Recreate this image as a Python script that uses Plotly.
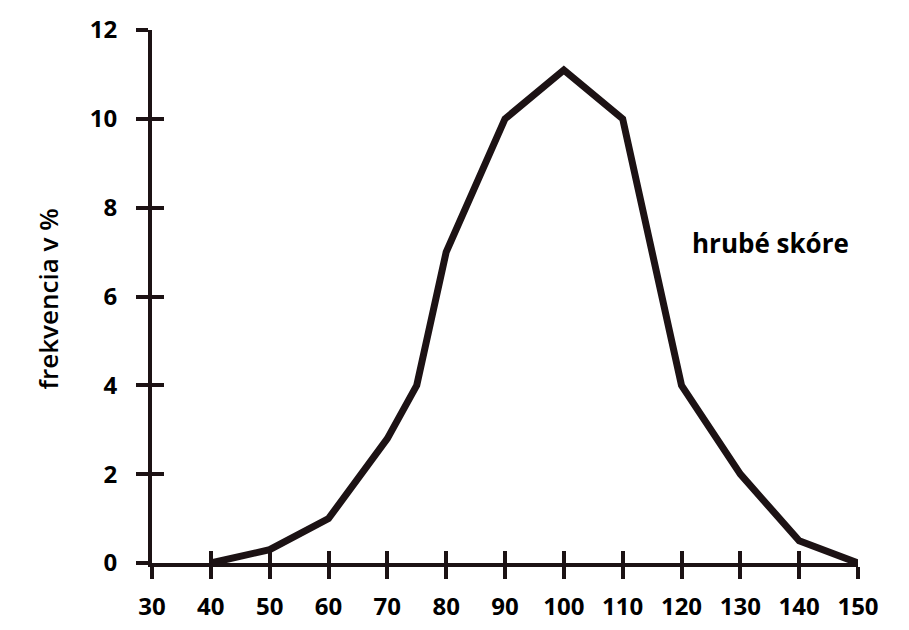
import plotly.graph_objects as go

# data
score = [40, 50, 60, 70, 75, 80, 90, 100, 110, 120, 130, 140, 150]
freq = [0, 0.3, 1.0, 2.8, 4.0, 7.0, 10.0, 11.1, 10.0, 4.0, 2.0, 0.5, 0]
x_ticks = [30, 40, 50, 60, 70, 80, 90, 100, 110, 120, 130, 140, 150]
y_ticks = [0, 2, 4, 6, 8, 10, 12]

ink = "#1c1214"
tickfont = dict(family="Open Sans", size=24, color="#000000", weight="bold")

fig = go.Figure()
fig.add_trace(go.Scatter(x=score, y=freq, mode="lines",
                         line=dict(color=ink, width=7), cliponaxis=False,
                         hoverinfo="skip", showlegend=False))
# invisible companion traces so the overlay axes (inner tick halves) are drawn
fig.add_trace(go.Scatter(x=score, y=freq, mode="lines", xaxis="x", yaxis="y2",
                         line=dict(color="rgba(0,0,0,0)", width=1),
                         hoverinfo="skip", showlegend=False))
fig.add_trace(go.Scatter(x=score, y=freq, mode="lines", xaxis="x2", yaxis="y",
                         line=dict(color="rgba(0,0,0,0)", width=1),
                         hoverinfo="skip", showlegend=False))

axis_common = dict(showgrid=False, zeroline=False, showline=True,
                   linecolor=ink, linewidth=4, tickcolor=ink, tickwidth=4,
                   ticklen=12, automargin=False)

fig.update_layout(
    width=909, height=630,
    margin=dict(l=152, r=51, t=30, b=67),
    paper_bgcolor="white", plot_bgcolor="white",
    xaxis=dict(range=[30, 150], tickvals=x_ticks, ticks="outside",
               tickfont=tickfont, ticklabelstandoff=7, **axis_common),
    yaxis=dict(range=[0, 12], tickvals=y_ticks, ticks="outside",
               tickfont=tickfont, ticklabelstandoff=14, **axis_common),
    xaxis2=dict(range=[30, 150], tickvals=x_ticks, ticks="inside", side="bottom",
                overlaying="x", anchor="y", showticklabels=False, **axis_common),
    yaxis2=dict(range=[0, 12], tickvals=y_ticks, ticks="inside", side="left",
                overlaying="y", anchor="x", showticklabels=False, **axis_common),
    annotations=[
        dict(text="frekvencia v %", textangle=-90, xref="paper", yref="paper",
             x=-0.147, y=0.495, xanchor="center", yanchor="middle", showarrow=False,
             font=dict(family="Open Sans", size=26, color="#000000", weight=600)),
        dict(text="hrubé skóre", xref="x", yref="y", x=135.2, y=7.2,
             xanchor="center", yanchor="middle", showarrow=False,
             font=dict(family="Open Sans", size=26, color="#000000", weight="bold")),
    ],
)

fig.write_html("out.html", config={"displayModeBar": False},
               post_script="document.body.style.margin='0';")
